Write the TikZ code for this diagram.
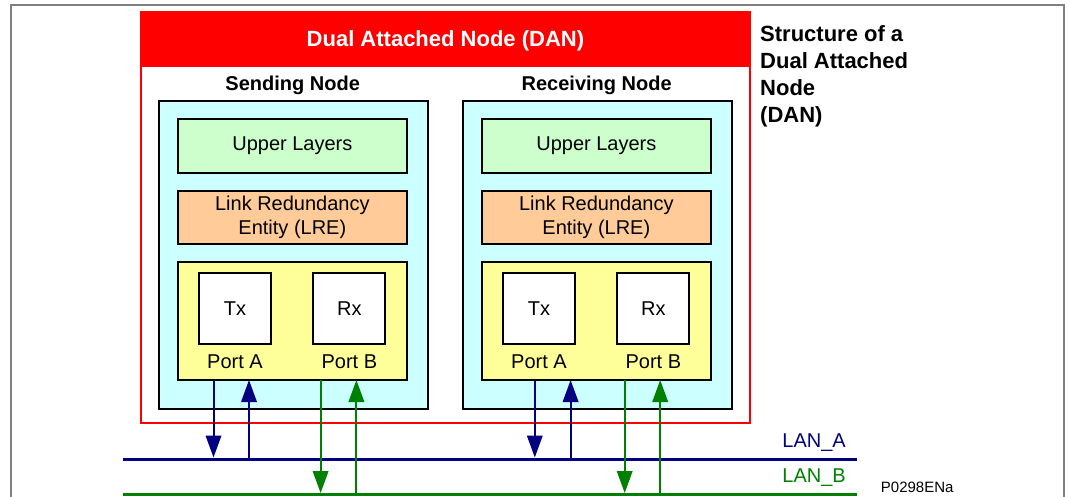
\documentclass[tikz,border=0pt]{standalone}
\usepackage{fontspec}
\setmainfont{Liberation Sans}
\usetikzlibrary{arrows.meta}
\definecolor{cyanbg}{HTML}{CCFFFF}
\definecolor{greenbg}{HTML}{CCFFCC}
\definecolor{orangebg}{HTML}{FFCC99}
\definecolor{yellowbg}{HTML}{FFFF99}
\definecolor{navyc}{HTML}{000080}
\definecolor{greenc}{HTML}{008000}
\definecolor{grayc}{HTML}{808080}
\tikzset{
  box/.style={draw=black, line width=2pt, inner sep=0pt, outer sep=0pt, rectangle},
  reg/.style={font=\fontsize{20}{24}\selectfont, align=center},
  boldlbl/.style={font=\fontsize{20}{24}\selectfont\bfseries, inner sep=0pt, anchor=base},
  portlbl/.style={font=\fontsize{20}{24}\selectfont, inner sep=0pt, anchor=base},
  bluearrow/.style={draw=navyc, line width=2pt, -{Triangle[width=15.5pt,length=22pt]}},
  greenarrow/.style={draw=greenc, line width=2pt, -{Triangle[width=15.5pt,length=22pt]}},
}
\begin{document}
\begin{tikzpicture}[x=1pt,y=-1pt]
\useasboundingbox (0,0) rectangle (1070,497);
% outer gray frame
\draw[grayc, line width=2pt] (11.4,497) -- (11.4,5) -- (1064,5) -- (1064,497);
% DAN box
\node[draw=red, line width=2pt, inner sep=0pt, minimum width=608.5pt, minimum height=411.3pt] (dan) at (445.45,217.35) {};
\fill[red] (dan.north west) rectangle (749.7,66.7);
\node[boldlbl, font=\fontsize{22}{26}\selectfont\bfseries, text=white] (dantitle) at (445.45,46.2) {Dual Attached Node (DAN)};
% side title
\node[anchor=north west, inner sep=0pt, align=left, font=\fontsize{22}{27}\selectfont\bfseries] (side) at (760,25) {Structure of a\\Dual Attached\\Node\\(DAN)};
% two nodes
\foreach \n/\dx/\t in {s/0/Sending Node, r/304/Receiving Node}{
  \begin{scope}[xshift=\dx pt]
  \node[boldlbl] (\n title) at (292.7,90.5) {\t};
  \node[box, fill=cyanbg, minimum width=268.6pt, minimum height=307.7pt] (\n cy) at (293.7,254.85) {};
  \node[box, fill=greenbg, minimum width=229.3pt, minimum height=54pt, reg] (\n up) at (292.35,146) {Upper Layers};
  \node[box, fill=orangebg, minimum width=229.3pt, minimum height=53.6pt, reg] (\n lre) at (292.35,217.5) {Link Redundancy\\Entity (LRE)};
  \node[box, fill=yellowbg, minimum width=229.3pt, minimum height=117.7pt] (\n y) at (292.35,321.15) {};
  \node[box, fill=white, minimum width=72pt, minimum height=71.6pt, reg] (\n tx) at (235,308.5) {Tx};
  \node[box, fill=white, minimum width=72pt, minimum height=71.6pt, reg] (\n rx) at (349.35,308.5) {Rx};
  \node[portlbl] (\n pa) at (235,368.9) {Port A};
  \node[portlbl] (\n pb) at (349.35,368.9) {Port B};
  \end{scope}
}
% LAN lines
\coordinate (laL) at (123,459);
\coordinate (laR) at (857,459);
\coordinate (lbL) at (123,494.3);
\coordinate (lbR) at (857,494.3);
\draw[navyc, line width=3pt] (laL) -- (laR);
\draw[greenc, line width=3pt] (lbL) -- (lbR);
\node[portlbl, anchor=base east, text=navyc] (lana) at (846,447.9) {LAN\_A};
\node[portlbl, anchor=base east, text=greenc] (lanb) at (846,482.2) {LAN\_B};
\node[inner sep=0pt, anchor=base west, font=\fontsize{15}{18}\selectfont] (code) at (880.7,492.1) {P0298ENa};
% connection points on LANs
\coordinate (sa1) at (213.5,457.5);
\coordinate (sa2) at (249,457.5);
\coordinate (sb1) at (320.6,493);
\coordinate (sb2) at (356.4,493);
\coordinate (ra1) at (534.8,457.5);
\coordinate (ra2) at (570.6,457.5);
\coordinate (rb1) at (624.7,493);
\coordinate (rb2) at (660.2,493);
% arrows
\draw[bluearrow] (sy.south -| sa1) -- (sa1);
\draw[bluearrow] (sa2) -- (sy.south -| sa2);
\draw[greenarrow] (sy.south -| sb1) -- (sb1);
\draw[greenarrow] (sb2) -- (sy.south -| sb2);
\draw[bluearrow] (ry.south -| ra1) -- (ra1);
\draw[bluearrow] (ra2) -- (ry.south -| ra2);
\draw[greenarrow] (ry.south -| rb1) -- (rb1);
\draw[greenarrow] (rb2) -- (ry.south -| rb2);
\end{tikzpicture}
\end{document}
